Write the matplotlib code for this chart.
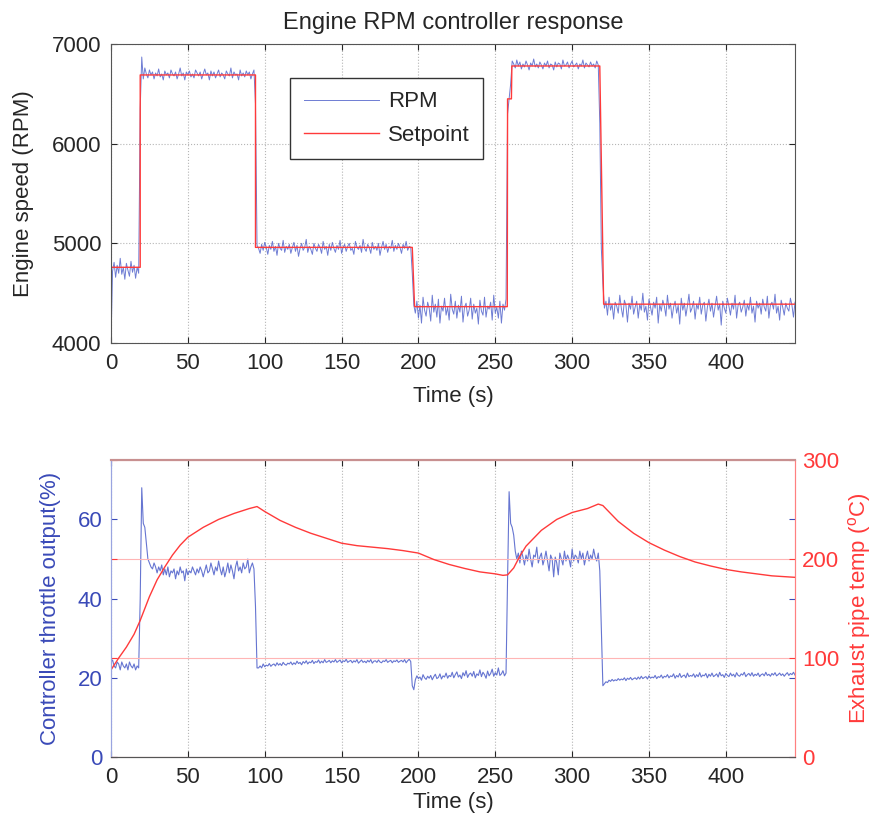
import numpy as np
import matplotlib.pyplot as plt

plt.rcParams['font.family'] = ['Liberation Sans', 'DejaVu Sans']
plt.rcParams['mathtext.fontset'] = 'custom'
plt.rcParams['mathtext.rm'] = 'Liberation Sans'

# engine speed, one sample per second from t = 0 s
rpm = [4000,
       4720, 4810, 4660, 4780, 4700, 4850, 4690, 4760, 4640, 4800, 4730, 4670, 4820, 4710, 4780, 4650, 4760, 4700,
       6350, 6870, 6650, 6760,
       6700, 6660, 6740, 6690, 6720, 6650, 6710, 6680, 6750, 6670,
       6700, 6640, 6730, 6690, 6710, 6660, 6740, 6700, 6680, 6720,
       6650, 6700, 6760, 6680, 6710, 6640, 6720, 6690, 6730, 6670,
       6700, 6660, 6740, 6710, 6680, 6720, 6650, 6700, 6750, 6690,
       6710, 6640, 6730, 6680, 6720, 6660, 6700, 6740, 6670, 6710,
       6690, 6650, 6730, 6700, 6680, 6760, 6660, 6720, 6690, 6700,
       6640, 6740, 6680, 6710, 6670, 6730, 6690, 6720, 6650, 6700, 6740,
       6400, 4980,
       4950, 4900, 4990, 4930, 5010, 4960, 4890, 4980, 4940, 5020,
       4920, 4970, 4880, 5000, 4950, 4930, 5030, 4910, 4970, 4940,
       4990, 4900, 4960, 5010, 4920, 4980, 4870, 4950, 5000, 4930,
       4960, 5040, 4910, 4970, 4940, 4890, 5000, 4950, 4920, 4990,
       4960, 4900, 5020, 4940, 4970, 4880, 4990, 4930, 5010, 4950,
       4910, 4980, 4940, 5030, 4900, 4960, 4990, 4920, 4970, 5000,
       4930, 4950, 4890, 5020, 4960, 4940, 4980, 4910, 5040, 4950,
       4920, 4990, 4960, 4900, 5010, 4940, 4970, 4930, 5000, 4880,
       4960, 5020, 4940, 4990, 4910, 4970, 4950, 5030, 4920, 4980,
       4940, 5000, 4960, 4900, 4990, 4950, 5020, 4930, 4970, 4960,
       4700, 4380,
       4300, 4420, 4250, 4380, 4200, 4460, 4330, 4270, 4410, 4350,
       4220, 4480, 4310, 4390, 4260, 4440, 4200, 4370, 4320, 4450,
       4280, 4360, 4230, 4490, 4340, 4290, 4420, 4250, 4380, 4310,
       4470, 4210, 4360, 4400, 4270, 4330, 4450, 4240, 4390, 4300,
       4350, 4190, 4430, 4320, 4280, 4460, 4260, 4370, 4340, 4410,
       4230, 4480, 4300, 4360, 4250, 4420, 4200, 4390, 4330, 4440,
       6300, 6450, 6600, 6830,
       6800, 6760, 6840, 6780, 6820, 6750, 6800, 6770, 6830, 6790,
       6740, 6810, 6780, 6850, 6770, 6800, 6760, 6820, 6790, 6750,
       6810, 6780, 6830, 6760, 6800, 6790, 6740, 6820, 6770, 6810,
       6800, 6750, 6840, 6780, 6790, 6820, 6760, 6800, 6830, 6770,
       6790, 6810, 6750, 6800, 6780, 6840, 6760, 6810, 6790, 6770,
       6820, 6780, 6800, 6760, 6830, 6790,
       6200, 4950, 4600,
       4350, 4420, 4280, 4460, 4330, 4390, 4240, 4410, 4370, 4300,
       4480, 4350, 4260, 4430, 4380, 4210, 4400, 4340, 4470, 4290,
       4360, 4420, 4250, 4390, 4330, 4500, 4310, 4370, 4230, 4440,
       4360, 4280, 4410, 4350, 4460, 4200, 4390, 4320, 4430, 4370,
       4270, 4480, 4340, 4400, 4250, 4360, 4420, 4300, 4380, 4190,
       4450, 4330, 4400, 4270, 4370, 4490, 4310, 4350, 4420, 4240,
       4390, 4340, 4460, 4290, 4380, 4410, 4220, 4360, 4440, 4320,
       4400, 4260, 4370, 4470, 4330, 4390, 4180, 4420, 4350, 4300,
       4450, 4370, 4280, 4400, 4340, 4480, 4250, 4380, 4410, 4310,
       4360, 4430, 4270, 4390, 4330, 4460, 4300, 4370, 4210, 4420,
       4350, 4400, 4290, 4440, 4360, 4320, 4470, 4250, 4380, 4410,
       4340, 4490, 4300, 4370, 4230, 4430, 4360, 4280, 4400, 4350,
       4320, 4450, 4380, 4260, 4410]

# setpoint steps
sp_time = [0, 19, 19, 94, 94, 196, 197.5, 257.8, 258, 260.5, 260.8, 318, 320.5, 445]
sp_rpm = [4760, 4760, 6690, 6690, 4960, 4960, 4365, 4365, 6450, 6450, 6780, 6780, 4390, 4390]

# throttle output (%), same sampling as rpm
throttle = [24,
            24.5, 23, 22.5, 24, 23.5, 22, 24, 23, 22.5, 23.5, 22, 24, 23, 22.5, 23.5, 22, 23, 22.5,
            40, 68, 59, 58, 54, 50,
            49, 48, 47.5, 49, 48, 46.5, 48, 47, 48.5, 46,
            47.5, 46, 48, 45.5, 47, 46.5, 47.5, 45, 47, 46,
            48, 46.5, 47, 44.5, 47.5, 46, 47, 46.5, 48, 47,
            46, 47.5, 46.5, 48, 47, 45.5, 47, 48.5, 46.5, 47,
            49, 47.5, 46, 48, 47, 49.5, 47.5, 46, 48, 45.5,
            47, 49, 46.5, 48.5, 47, 45, 48, 49.5, 47, 48,
            46.5, 49, 47.5, 48, 50, 46.5, 48, 49, 47.5,
            38, 22.5,
            22.5, 23, 22.5, 23.5, 22.8, 23.2, 23, 23.6, 22.9, 23.3,
            23.5, 23, 23.8, 23.2, 23.6, 23.1, 23.9, 23.4, 23.2, 23.7,
            23.5, 24, 23.3, 23.8, 23.4, 24.2, 23.6, 23.9, 23.3, 24.1,
            23.7, 24.3, 23.5, 24, 23.8, 24.4, 23.6, 24.1, 23.9, 24.5,
            23.7, 24.2, 23.8, 24.6, 23.9, 24.1, 24.4, 23.8, 24.3, 24,
            24.6, 23.9, 24.2, 24.5, 23.8, 24.3, 24.1, 24.7, 23.9, 24.2,
            24.4, 23.8, 24.3, 24, 24.6, 23.7, 24.1, 24.5, 23.9, 24.2,
            23.8, 24.4, 24, 24.6, 23.7, 24.2, 24.3, 23.9, 24.5, 24,
            23.8, 24.3, 24.1, 24.6, 23.9, 24.2, 24.4, 23.8, 24.3, 24.1,
            24.5, 23.9, 24.2, 24.4, 24, 24.6, 23.8, 24.3, 24.7, 24.1,
            18, 17,
            19.5, 20.5, 19.8, 20.2, 19.4, 20.8, 20, 19.6, 20.4, 19.9,
            20.6, 19.5, 20.3, 20.9, 19.8, 20.1, 21, 19.7, 20.5, 20.2,
            21.2, 19.9, 20.6, 20.3, 21.4, 20, 20.8, 21.5, 20.2, 20.7,
            19.8, 21.3, 20.5, 21.8, 20.1, 20.9, 21.2, 20.4, 21.6, 20,
            21, 20.6, 22, 20.3, 21.4, 20.8, 19.9, 21.7, 20.5, 21.1,
            22.2, 20.4, 21.3, 20.7, 22.5, 20.6, 21, 21.8, 20.5, 21.2,
            45, 67, 59, 58, 56, 52,
            50, 51.5, 49, 52, 50.5, 48.5, 51, 49.5, 52.5, 50,
            48, 51, 50.5, 53, 49, 50.5, 51.5, 48.5, 50, 52,
            49.5, 47, 51, 50, 45.5, 50.5, 49, 46, 51.5, 50,
            48.5, 52, 49.5, 51, 50, 48, 52.5, 49.5, 51, 50.5,
            49, 52, 50, 51.5, 48.5, 50.5, 52, 49.5, 51, 50,
            52.5, 50.5, 49.5, 51.5,
            47, 33, 18,
            18.5, 19, 18.8, 19.4, 19.1, 19.6, 19.2, 19.5, 19.3, 19.8,
            19.4, 19.7, 19.5, 20, 19.3, 19.9, 19.6, 20.1, 19.5, 19.8,
            20, 19.6, 20.2, 19.7, 20.4, 19.8, 20.1, 20.3, 19.7, 20.5,
            19.9, 20.2, 20, 20.6, 19.8, 20.3, 20.1, 20.7, 19.9, 20.4,
            20.2, 20.8, 20, 20.5, 20.3, 21, 19.9, 20.6, 20.2, 21.1,
            20.1, 20.5, 20.7, 20, 21.2, 20.3, 20.6, 20.4, 21, 20.1,
            20.8, 20.3, 21.3, 20.2, 20.7, 20.5, 21.1, 20, 20.9, 20.4,
            21.2, 20.3, 20.6, 21, 20.2, 21.4, 20.5, 20.8, 20.1, 21.1,
            20.6, 20.3, 21.2, 20.5, 20.9, 20.2, 21.3, 20.6, 20.4, 21,
            20.7, 21.4, 20.3, 20.8, 21.1, 20.5, 21.3, 20.4, 20.9, 20.6,
            21.2, 20.3, 20.8, 21, 20.5, 21.4, 20.6, 20.9, 20.4, 21.1,
            20.7, 21.3, 20.5, 20.8, 21.2, 20.6, 21, 20.4, 20.9, 21.3,
            20.6, 21.1, 20.8, 21.4, 20.7]

# exhaust temperature (deg C)
temp_time = [0, 5, 10, 15, 19, 22, 25, 30, 35, 40, 45, 50, 60, 70, 80, 90, 95, 100, 110, 120, 130,
             140, 150, 160, 170, 180, 190, 200, 210, 220, 230, 240, 250, 255, 258, 262, 266, 270, 275, 280, 290,
             300, 310, 317, 320, 330, 340, 350, 360, 370, 380, 390, 400, 410, 420, 430, 445]
temp = [88, 100, 111, 124, 138, 150, 162, 179, 192, 204, 214, 222, 232, 240, 246, 251, 253, 248, 239, 232, 226,
        221, 216, 213.5, 212, 210.5, 208.5, 206, 199.5, 194.5, 190.5, 187, 185, 183.5, 184, 191, 203, 213, 221, 229, 240,
        247, 251, 255.5, 254, 238, 226, 216.5, 209, 202.5, 197, 193, 189.5, 187, 185, 183, 181.5]

t = np.arange(len(rpm))
t2 = np.arange(len(throttle))

blue = '#5566cc'
red = '#ff3a3a'
txt = '#262626'
xticks = [0, 50, 100, 150, 200, 250, 300, 350, 400]

fig = plt.figure(figsize=(8.72, 8.25), dpi=100)

# ---- top: rpm
ax1 = fig.add_axes([0.1273, 0.5842, 0.7844, 0.3624])
ax1.plot(t, rpm, color=blue, lw=0.7, alpha=0.85, label='RPM')
ax1.plot(sp_time, sp_rpm, color=red, lw=1.0, label='Setpoint')
ax1.set_xlim(0, 445)
ax1.set_ylim(4000, 7000)
ax1.set_xticks(xticks)
ax1.set_yticks([4000, 5000, 6000, 7000])
ax1.grid(True, color='#b5b5b5', linestyle=':', lw=0.8)
ax1.tick_params(direction='in', top=True, right=True, labelsize=16, colors=txt, length=4, pad=7)
for s in ax1.spines.values():
    s.set_color('#555555')
ax1.set_title('Engine RPM controller response', fontsize=17, color=txt, pad=11)
ax1.set_xlabel('Time (s)', fontsize=16, color=txt, labelpad=9)
ax1.set_ylabel('Engine speed (RPM)', fontsize=16, color=txt, labelpad=13)
leg = ax1.legend(loc='upper left', bbox_to_anchor=(0.262, 0.886), borderaxespad=0, fontsize=16, fancybox=False,
                 edgecolor='#333333', framealpha=1, handlelength=3.4, handletextpad=0.4,
                 borderpad=0.6, labelspacing=0.55)
leg.get_frame().set_linewidth(1.0)
for txtobj in leg.get_texts():
    txtobj.set_color(txt)

# ---- bottom: throttle and temperature
ax2 = fig.add_axes([0.1273, 0.0824, 0.7844, 0.36])
ax3 = ax2.twinx()
ax2.plot(t2, throttle, color=blue, lw=0.8, alpha=0.9)
ax3.plot(temp_time, temp, color=red, lw=1.0)
ax2.set_xlim(0, 445)
ax2.set_ylim(0, 75)
ax3.set_ylim(0, 300)
ax2.set_xticks(xticks)
ax2.set_yticks([0, 20, 40, 60])
ax3.set_yticks([0, 100, 200, 300])
ax2.grid(True, axis='x', color='#b5b5b5', linestyle=':', lw=0.8)
ax3.grid(True, axis='y', color='#ffb5b5', linestyle='-', lw=0.8)
ax2.tick_params(axis='x', direction='in', top=True, labelsize=16, colors=txt, length=4, pad=7)
ax2.tick_params(axis='y', direction='in', right=True, labelsize=16, colors='#3a4ab8', length=4, pad=6)
ax3.tick_params(axis='y', direction='in', left=True, labelsize=16, colors=red, length=4, pad=5)
ax2.set_xlabel('Time (s)', fontsize=16, color=txt, labelpad=3)
ax2.set_ylabel('Controller throttle output(%)', fontsize=16, color='#3a4ab8', labelpad=12)
ax3.set_ylabel(r'Exhaust pipe temp ($^{\rm o}$C)', fontsize=16, color=red, labelpad=5)
for ax in (ax2, ax3):
    ax.spines['bottom'].set_color('#555555')
    ax.spines['left'].set_color('#9aa4e0')
    ax.spines['right'].set_color('#ff8080')
    ax.spines['top'].set_color('#c89090')
    ax.spines['top'].set_linewidth(1.5)

fig.savefig('out.png', dpi=100, facecolor='white')
